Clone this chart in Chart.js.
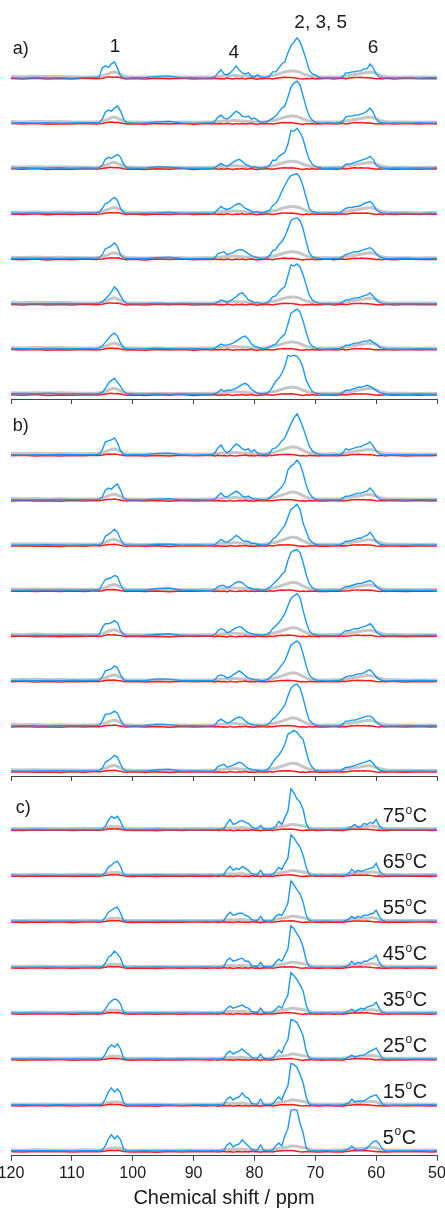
<!DOCTYPE html>
<html>
<head>
<meta charset="utf-8">
<script src="https://cdn.jsdelivr.net/npm/chart.js@4.4.1/dist/chart.umd.min.js"></script>
<style>
html, body { margin: 0; padding: 0; background: #fff; }
#wrap { position: relative; width: 445px; height: 1208px; overflow: hidden; background: #fff; }
canvas { position: absolute; left: -20px; }
</style>
</head>
<body>
<div id="wrap">
  <canvas id="pa" width="485" height="404" style="top:0px;width:485px;height:404px"></canvas>
  <canvas id="pb" width="485" height="377" style="top:404px;width:485px;height:377px"></canvas>
  <canvas id="pc" width="485" height="429" style="top:781px;width:485px;height:429px"></canvas>
</div>
<script>
// chemical shift grid (ppm), finer where the peaks are
const ppm = [120,118,116,114,112,110,108,106, 105.5,105,104.5,104,103.5,103,102.5,102,101.5,101,100, 98,96,94,92,90,88,
  87,86.5,86,85.5,85,84.5,84,83.5,83,82.5,82,81.5,81,80.5,80,79.5,79,78.5,78,77.5,77,76.5,76,75.5,75,74.5,74,73.5,73,72.5,72,71.5,71,70.5,70,69.5,69,
  68,67, 66,65.5,65,64.5,64,63.5,63,62.5,62,61.5,61,60.5,60,59.5,59,58.5,58, 57,55,53,51,50]
const tickPpm = [120,110,100,90,80,70,60,50]
const peakNames = ['1', '4', '2, 3, 5', '6']
const panelNames = ['a)', 'b)', 'c)']
const temps = ['75', '65', '55', '45', '35', '25', '15', '5']

// panel a - blue traces, top to bottom
const a1 = [0.3,-0.2,0.4,0,0.2,-0.3,0.3,0.6, 1,10,12,10.5,14,16,10,2,0.3,-0.2,0.2, 0.2,1.5,2,0,0.3,-0.2, 0.2,1,5,8,4,3,5,8,12,8,5,4,5,2,1,3,1,0.5,0.5,2,6,6,10,14,16,25,32,36,40,36,28,18,8,4,3,1,0, 0,0.2, 0,1,5,5,6,6,7,7,9,9,14,10,4,1,0.3,0,0.2, 0,0.3,-0.2,0.2,0]
const a2 = [-0.2,0.3,0,0.4,-0.1,0.2,0.5,0.3, 0.5,4,11,13,12,15,17,12,4,0.5,0, -0.2,1.2,1.8,0.2,-0.3,0.1, 0.3,2,6,8,5,4,6,9,12,10,7,6,7,4,5,3,1,1,1.5,3,5,7,11,15,17,26,36,40,42,38,27,16,7,3,1,0.5,0, 0.2,0, 0.3,2,6,7,7,8,8,9,10,12,15,11,4,1,0.5,0,-0.2, 0.2,-0.1,0.3,0,0.2]
const a3 = [0.2,0.5,0.1,0.3,0.6,0.2,0.4,0.2, 0.5,3,9,11,10,12,14,11,4,0.5,0, 0.2,1.5,1,0.3,0,0.2, 0,0.5,3,5,3,2,4,6,8,9,7,4,3,1,1.5,0.5,0.3,0.5,1,3,8,8,12,14,16,24,38,37,40,36,29,18,9,4,2,1,0.3, 0,0.3, 0,1,4,4,5,6,7,8,9,10,12,9,3,1,0.5,0.2,0, 0.3,0.1,0.4,0.2,0.5]
const a4 = [0.3,0.2,0.5,0.3,0.4,0.6,0.3,0.8, 1.5,5,10,11,14,16,13,5,1,0.2,0, 0.3,0.5,1.2,0,0.2,0.3, 0,1,4,7,5,4,5,7,9,10,8,5,4,2,1,2,0.5,1,2,3,8,10,15,22,28,34,38,39,40,36,27,16,5,2,1,0.5,0, 0.2,0.5, 0.5,3,5,6,6,7,7,8,10,11,12,9,4,1.5,0.5,0.2,0, 0.3,0,-0.2,0.3,0]
const a5 = [0.3,0.5,0.6,0.4,0.3,0.5,0.4,0.7, 1,4,10,11,13,16,12,4,0.8,0.2,0.3, 0.2,1,1.5,0.2,0,0.3, 0.2,1,5,6,7,4,5,6,8,9,9,7,5,3,2,1,0.5,0.3,1,3,8,9,14,17,22,30,38,40,41,38,30,17,6,2,1,0.5,0.2, 0,0.3, 0.5,2,4,5,6,7,7,8,9,10,11,9,5,2,1,0.3,0, 0.2,0.4,0,0.3,0.2]
const a6 = [0.2,0,0.3,0.1,0.4,0.2,0.3,0.5, 0.8,2,5,8,12,17,14,8,3,0.5,0, 0.3,0.6,0.2,0.5,0.1,0.3, 0.2,0.5,2,4,3,2,3,5,7,10,11,8,4,3,1,1.5,0.5,0.3,1,3,7,8,12,15,17,28,39,38,40,37,29,19,9,4,2,1,0.3, 0.2,0, 0.5,2,4,4,5,6,6,7,8,9,11,8,4,1.5,0.5,0.2,0, 0.3,0.1,0.2,0,0.2]
const a7 = [0.3,0.4,0.2,0.6,0.3,0.5,0.4,0.7, 1,3,7,10,14,16,13,6,1.5,0.3,0.2, 0.2,0.8,0.4,0.2,0.5,0.2, 0.3,1,3,5,4,4,5,6,8,10,12,13,10,5,3,2,1,0.5,1,2,4,5,9,12,15,25,36,38,40,37,28,17,7,3,1,0.5,0.2, 0,0.3, 0.5,2,4,4,5,6,6,7,8,8,9,7,5,2,1,0.3,0, 0.2,0,0.3,0.1,0]
const a8 = [0.5,0.8,0.6,1,0.7,0.5,0.4,0.6, 0.8,2,6,11,14,16,12,8,3,0.8,0.3, 0.2,0.4,0.2,0.3,0,0.2, 0.2,0.5,2,5,3,4,4,5,6,8,10,11,9,5,3,1,0.5,0.5,1,3,8,13,16,21,28,39,38,39,38,34,26,14,8,3,1,0.5,0.2, 0,0.2, 0.3,2,4,4,5,6,7,7,8,9,8,6,4,2,1,0.3,0, 0.2,0,0.3,0,0.2]
const greyA = [1.5,1.2,1.6,1.3,1.5,1.2,1,1.2, 1.5,2,3,4,5.5,6,5,3.5,2,1.2,1, 0.8,1,0.7,1,0.8,1, 1,1.2,1.5,1.8,2,2,2.2,2.5,2.5,2.2,2,1.8,1.5,1.4,1.2,1,1,1.2,1.5,2,2.5,3,4,5,6,6.5,7,7,6.5,5.5,4,3,2,1.5,1.2,1,1, 1,1, 1.2,1.5,2,2.5,3,3.5,4,4.5,5,5.5,6,5.5,4.5,3,2,1.5,1.2, 1,1,0.8,1,0.8]
const redA = [-0.5,-1,-0.3,-1.2,-0.6,-1,-0.4,-0.8, -0.6,-0.3,0.3,0.8,1,0.6,0.9,0.2,-0.5,-1,-0.6, -1.2,-0.4,-0.9,-0.3,-1.1,-0.5, -0.8,-0.3,-0.9,-0.5,-1,-0.2,-0.7,-1.1,-0.4,-0.8,-0.3,-1,-0.6,-0.2,-0.9,-1.3,-0.5,-0.8,-0.3,-0.6,-1,-0.4,0,0.4,0.6,0.3,0.5,0.2,-0.3,-0.8,-1.2,-0.5,-0.9,-0.3,-1,-0.6,-0.8, -0.4,-1, -0.6,-0.2,-0.8,-0.3,0.2,0.5,0.3,0.6,0.2,0.4,0,-0.4,-0.9,-0.5,-1,-0.3,-0.7, -1,-0.4,-0.9,-0.5,-0.8]

// panel b
const b1 = [0.2,-0.2,0.3,0,0.4,0.1,0.3,0.4, 0.8,5,13,14,15,17,12,4,0.5,0,0.2, 0.3,1.5,1.8,0.2,-0.2,0.3, 0.2,2,7,10,5,2,4,8,11,9,6,5,6,3,5,2,1,0.5,0.5,2,6,7,10,14,17,24,31,37,41,35,27,18,9,4,2,1,0.2, 0,0.3, 0.2,2,6,5,6,7,8,8,10,11,13,9,4,1,0.3,0,0.2, 0,0.3,-0.1,0.2,0]
const b2 = [0.4,0.2,0.5,0.3,0.6,0.4,0.3,0.5, 0.8,3,10,12,11,14,16,10,2,0.3,0.2, 0.3,1,1.3,0.2,0.4,0.2, 0.3,1,4,7,4,3,5,7,9,7,4,3,4,2,1,1,0.5,0.3,0.5,2,5,7,10,13,18,30,34,36,40,36,27,15,7,3,1,0.5,0.2, 0.3,0.2, 0.3,2,4,4,5,6,7,7,8,9,12,9,4,1,0.5,0.3,0.2, 0.4,0.2,0.5,0.3,0.4]
const b3 = [0.2,0.4,0.3,0.6,0.3,0.2,0.4,0.3, 0.5,2,9,11,13,16,13,6,1,0.3,0, 0.2,1,1.2,0.1,0.3,0.2, 0.2,0.5,3,6,4,3,5,7,10,8,5,4,4,2,2,1,0.5,0.3,0.5,2,6,8,12,16,20,28,36,38,41,36,22,14,6,3,1,0.5,0.2, 0.2,0, 0.3,2,4,4,5,6,7,7,9,10,13,9,4,1.5,0.5,0.2,0, 0.2,0,0.3,0.1,0.3]
const b4 = [0.4,0.3,0.6,0.4,0.5,0.3,0.6,0.5, 1,6,11,12,13,15,14,6,1,0.3,0.2, 0.3,2,2.5,0.2,0.4,0.1, 0.2,1,4,5,5,3,4,6,8,9,8,5,3,2,1,1,0.5,0.3,1,3,6,9,12,16,19,30,38,40,41,38,28,16,7,3,1,0.5,0.2, 0,0.3, 0.3,2,4,4,5,6,7,7,8,9,10,8,4,1.5,0.5,0.2,0, 0.2,0.4,0.1,0.3,0.2]
const b5 = [0.3,0.1,0.4,0.2,0.3,0.5,0.2,0.4, 1,8,12,12,13,15,13,5,1,0.2,0.1, 0.2,1.5,2,0.2,0.3,0.1, 0.2,1,5,7,6,3,4,6,8,9,8,5,3,2,1,1,0.5,0.5,1,3,7,10,13,17,22,30,37,40,42,38,25,14,5,2,1,0.3,0.2, 0.2,0, 0.5,3,5,5,6,7,7,8,9,10,12,9,4,1.5,0.5,0.2,0, 0.3,0.1,0.2,0.4,0.2]
const b6 = [0.3,0.5,0.2,0.4,0.3,0.6,0.4,0.5, 0.8,4,10,11,12,15,13,6,1,0.3,0.2, 0.2,2,1.8,0.3,0.2,0.3, 0.3,1,5,6,5,3,4,6,8,10,8,5,3,2,1,1,0.5,0.3,1,3,6,8,12,16,20,28,36,38,40,37,27,15,6,3,1,0.5,0.2, 0,0.2, 0.4,2,4,5,5,6,7,7,8,10,11,8,4,1.5,0.5,0.2,0, 0.3,0.1,0.4,0.2,0.3]
const b7 = [0.2,0.4,0.3,0.2,0.5,0.3,0.4,0.6, 1,5,12,12,13,15,13,6,1,0.3,0.1, 0.3,2,1.5,0.2,0.4,0.2, 0.2,1,5,7,5,3,4,6,8,9,8,5,3,2,1,1,0.5,0.3,1,3,7,9,13,17,21,30,38,41,42,38,28,16,6,3,1,0.5,0.2, 0.2,0, 0.3,2,5,5,6,6,7,8,9,10,10,8,4,1.5,0.5,0.2,0, 0.2,0.3,0.1,0.3,0.2]
const b8 = [0.3,0.2,0.4,0.3,0.5,0.4,0.3,0.5, 0.8,3,9,11,13,16,14,7,1.5,0.3,0.2, 0.2,1.5,2,0.2,0.3,0.2, 0.2,1,5,6,7,4,5,6,8,9,8,5,3,2,1,1,0.5,0.3,1,4,9,13,16,21,27,37,39,41,39,35,32,20,9,4,1,0.5,0.2, 0,0.3, 0.3,2,4,4,5,6,7,8,9,10,11,8,4,1.5,0.5,0.2,0, 0.2,0,0.3,0.1,0.2]
const greyB = [1.5,1.3,1.6,1.2,1.4,1.2,1.1,1.3, 1.4,2,3,4.5,5.5,6,5,3.5,2,1.2,1, 0.9,1,0.8,1,0.8,1, 1,1.2,1.5,1.8,2,2,2.2,2.5,2.5,2.2,2,1.8,1.5,1.4,1.2,1,1,1.2,1.5,2,2.5,3,4,5,6,7,8,8,7.5,6,4.5,3,2,1.5,1.2,1,1, 1,1.1, 1.2,1.5,2,2.5,3,3.5,4,4.5,5,5.5,5.5,5,4,3,2,1.5,1.2, 1.1,1,0.9,1,0.9]
const redB = [-0.8,-0.4,-1,-0.6,-1.1,-0.5,-0.9,-0.3, -0.7,-0.2,0.4,0.9,0.7,1,0.5,0.1,-0.6,-0.9,-0.5, -1,-0.5,-1.2,-0.4,-0.8,-0.6, -0.5,-1,-0.4,-0.9,-0.6,-1.2,-0.3,-0.8,-1,-0.5,-0.7,-0.2,-0.9,-0.6,-1.1,-0.4,-0.8,-0.5,-1,-0.3,-0.7,-0.2,0.2,0.5,0.3,0.6,0.4,0.1,-0.4,-0.9,-0.6,-1.1,-0.4,-0.8,-0.5,-1,-0.7, -0.9,-0.5, -0.8,-0.4,-0.6,-0.2,0.3,0.4,0.6,0.3,0.5,0.2,0.4,-0.1,-0.6,-0.9,-0.4,-1,-0.5, -0.7,-1,-0.5,-0.8,-0.6]

// panel c (75 down to 5 oC)
const c1 = [0.2,0,0.3,0.1,0.2,0,0.2,0.1, 0.2,0.5,3,9,13,11,13,8,1,0,0.2, 0.1,0.3,0,0.2,0.1,0, 0.2,0,0.3,0.2,1,6,10,5,6,8,9,7,6,3,1,1,4,1,0.5,0.3,1,3,8,5,12,18,40,36,30,27,20,6,0.5,0,0.2,0,0.2, 0,0.2, 0,0.2,0.5,1,3,5,2,3,6,5,7,6,10,4,1,0.2,0, 0.2,0,0.1,0.2,0]
const c2 = [0.2,0,0.3,0.1,0.2,0,0.3,0.2, 0.2,0.5,3,8,10,13,14,9,1,0,0.2, 0.2,0.5,0.3,0,0.2,0.1, 0.2,0,0.3,0.2,1,6,9,5,7,6,9,7,5,2,1,1,5,1,0.5,0.3,1,4,8,6,12,17,40,37,32,28,20,8,1,0,0.2,0,0.2, 0,0.2, 0,0.2,0.5,1.5,6,3,5,4,5,6,7,8,12,5,1,0.2,0, 0.2,0,0.1,0.2,0]
const c3 = [0.1,0.3,0,0.2,0.1,0.3,0,0.2, 0.3,0.5,4,9,11,13,14,8,1,0.2,0, 0,0.3,0.2,0.1,0,0.2, 0,0.2,0.3,0.1,1,6,9,6,7,8,8,6,5,2,1,1,5,1,0.5,0.3,1,5,7,6,11,18,40,36,31,27,19,6,1,0,0.2,0,0.2, 0.2,0, 0,0.3,1,2,5,3,5,4,6,6,7,8,11,5,1,0.2,0, 0,0.2,0,0.1,0.2]
const c4 = [0.2,0,0.2,0.3,0.1,0.2,0,0.3, 0.2,0.8,4,10,12,16,13,9,1,0.2,0, 0.2,0.3,0,0.2,0.1,0.3, 0.2,0,0.3,0.2,1,7,9,6,7,8,9,6,6,2,1,1,5,1,0.5,0.3,1,5,8,6,12,18,41,38,33,28,20,7,1,0,0.2,0,0.2, 0,0.2, 0,0.3,1,2,6,3,5,4,6,6,8,9,12,5,1,0.2,0, 0.2,0.1,0,0.2,0]
const c5 = [0.1,0.3,0.2,0,0.3,0.1,0.2,0.3, 0.2,0.6,4,9,12,14,13,9,1,0.2,0, 0.2,0.4,0.1,0.3,0,0.2, 0.2,0.1,0.3,0.2,1,5,7,5,6,7,8,6,5,2,1,1,5,1,0.5,0.3,1,4,7,5,12,18,40,37,33,28,22,8,1,0,0.2,0,0.2, 0.2,0, 0,0.3,0.8,2,4,2,3,5,4,6,7,8,11,5,1,0.2,0, 0,0.2,0.1,0.3,0.1]
const c6 = [0.2,0.1,0.3,0.2,0,0.2,0.3,0.1, 0.2,0.8,5,11,14,12,15,10,1,0.2,0, 0.3,0.2,0,0.2,0.3,0, 0.2,0,0.2,0.3,1,6,8,5,7,8,10,7,5,2,1,1,5,1,0.5,0.3,1,5,9,6,14,19,39,38,36,30,23,8,1,0,0.2,0,0.2, 0,0.2, 0,0.3,0.8,2,4,2,3,4,4,6,8,9,11,6,1,0.2,0, 0.2,0,0.2,0.1,0]
const c7 = [0.2,0.3,0.1,0.2,0.3,0.2,0.1,0.3, 0.3,1,6,13,17,13,16,12,2,0.2,0.1, 0.2,0.3,0.1,0,0.2,0.3, 0.2,0.1,0.3,0.2,1,6,8,5,7,8,12,8,7,2,1,1,6,1,0.5,0.3,1,5,8,5,13,19,41,40,37,30,22,8,1,0,0.2,0,0.2, 0.2,0, 0,0.3,1,2,6,3,4,4,4,6,8,9,10,6,1,0.2,0, 0,0.2,0.1,0.3,0.2]
const c8 = [0.3,0.2,0.4,0.2,0.3,0.1,0.3,0.2, 0.3,1,5,12,16,12,15,11,2,0.3,0.1, 0.3,0.1,0.2,0,0.3,0.1, 0.2,0,0.3,0.2,1,6,8,4,6,7,11,8,5,2,1,1,6,1,0.5,0.3,1,5,8,5,15,22,40,41,40,27,18,3,0.5,0,0.2,0,0.2, 0.2,0, 0,0.3,1,2,5,2,1,1,1.5,3,6,9,10,7,2,0.3,0, 0.2,0,0.3,0.1,0.2]
const greyC = [1,0.8,1.2,1,0.8,1,1.2,1, 1,1.2,1.5,2.5,3,3,3,2.5,1.5,1,0.8, 0.8,1,0.7,0.9,1,0.8, 1,0.8,1,1.2,1.5,1.5,1.8,1.5,1.5,1.8,2,1.5,1.2,1,0.8,0.8,1,0.8,1,1.2,1.5,2,2.5,3,3.5,4,5,5,4.5,4,3.5,3,2,1.2,1,0.8,1, 0.8,1, 1,1.2,1.5,2,2,2.2,2.5,2.5,3,3,3.5,3.5,3,2,1.5,1.2,1, 1,0.8,1,0.9,1]
const redC = [-0.6,-1,-0.5,-0.8,-0.4,-1,-0.7,-0.5, -0.8,-0.4,0,0.5,0.8,0.6,0.7,0.3,-0.4,-0.8,-1, -0.6,-1.1,-0.5,-0.9,-0.4,-0.8, -0.7,-0.4,-1,-0.6,-0.3,-0.9,-0.5,-1.1,-0.6,-0.4,-0.9,-0.5,-1,-0.3,-0.8,-0.6,-1.2,-0.4,-0.7,-0.5,-0.9,-0.3,0,0.3,0.5,0.4,0.6,0.3,-0.2,-0.7,-1,-0.5,-0.8,-0.4,-0.9,-0.6,-1, -0.5,-0.9, -0.6,-1,-0.4,-0.2,0.2,0.4,0.3,0.5,0.2,0.4,0.1,-0.3,-0.7,-0.4,-0.9,-0.6,-1, -0.5,-0.8,-0.4,-0.9,-0.6]

const FONT = '"Liberation Sans", Arial, sans-serif'
const BLUE = '#1a98f8'
const GREY = '#c6c6c6'
const RED = '#ff1a1a'
const INK = '#1a1a1a'

function text(ctx, str, x, y, size, align) {
    ctx.save()
    ctx.font = size + 'px ' + FONT
    ctx.fillStyle = INK
    ctx.textAlign = align || 'center'
    ctx.textBaseline = 'middle'
    ctx.fillText(str, x, y)
    ctx.restore()
}

// "75oC" with a raised small o
function tempText(ctx, t, x, y) {
    ctx.save()
    ctx.fillStyle = INK
    ctx.textAlign = 'left'
    ctx.textBaseline = 'alphabetic'
    ctx.font = '20px ' + FONT
    ctx.fillText(t, x, y + 7)
    const w = ctx.measureText(t).width
    ctx.font = '12px ' + FONT
    ctx.fillText('o', x + w + 0.5, y - 1.5)
    const w2 = ctx.measureText('o').width
    ctx.font = '20px ' + FONT
    ctx.fillText('C', x + w + w2 + 1, y + 7)
    ctx.restore()
}

function makePanel(id, blues, grey, red, padTop, last, draw) {
    const scales = {
        x: {
            type: 'linear', min: 50, max: 120, reverse: true,
            afterBuildTicks: s => { s.ticks = tickPpm.map(v => ({value: v})) },
            ticks: {display: last, padding: 3, color: INK, font: {family: FONT, size: 16}},
            grid: {drawOnChartArea: false, tickLength: 5, color: '#444'},
            border: {color: '#444', width: 1},
            title: {display: last, text: 'Chemical shift / ppm', color: INK,
                font: {family: FONT, size: 20}, padding: {top: 0, bottom: 0}}
        }
    }
    const datasets = []
    blues.forEach((b, i) => {
        const ax = 'y' + i
        scales[ax] = {type: 'linear', position: 'right', stack: 'traces', stackWeight: 1,
            min: -4.7, max: 40.5, display: false}
        datasets.push({data: b, yAxisID: ax, borderColor: BLUE, borderWidth: 1.4, order: 0})
        datasets.push({data: red, yAxisID: ax, borderColor: RED, borderWidth: 1.5, order: 1})
        datasets.push({data: grey, yAxisID: ax, borderColor: GREY, borderWidth: 3, order: 2})
    })
    datasets.forEach(d => { d.pointRadius = 0; d.tension = 0; d.clip = false; d.fill = false })
    return new Chart(document.getElementById(id), {
        type: 'line',
        data: {labels: ppm, datasets: datasets},
        options: {
            responsive: false, animation: false, events: [],
            layout: {padding: {left: 31, right: 28, top: padTop, bottom: 0}},
            plugins: {legend: {display: false}, tooltip: {enabled: false}},
            scales: scales
        },
        plugins: [{id: 'labels', afterDraw: draw}]
    })
}

makePanel('pa', [a1,a2,a3,a4,a5,a6,a7,a8], greyA, redA, 37.4, false, chart => {
    const x = chart.scales.x, y = chart.scales.y0, ctx = chart.ctx
    text(ctx, panelNames[0], x.getPixelForValue(119.7), y.getPixelForValue(28.7), 18, 'left')
    text(ctx, peakNames[0], x.getPixelForValue(102.9), y.getPixelForValue(30.7), 19)
    text(ctx, peakNames[1], x.getPixelForValue(83.4), y.getPixelForValue(24.7), 19)
    text(ctx, peakNames[2], x.getPixelForValue(69.1), y.getPixelForValue(54.7), 19)
    text(ctx, peakNames[3], x.getPixelForValue(60.5), y.getPixelForValue(29.7), 19)
})

makePanel('pb', [b1,b2,b3,b4,b5,b6,b7,b8], greyB, redB, 10.4, false, chart => {
    const x = chart.scales.x, y = chart.scales.y0
    text(chart.ctx, panelNames[1], x.getPixelForValue(119.7), y.getPixelForValue(29), 18, 'left')
})

makePanel('pc', [c1,c2,c3,c4,c5,c6,c7,c8], greyC, redC, 7.4, true, chart => {
    const x = chart.scales.x, ctx = chart.ctx
    text(ctx, panelNames[2], x.getPixelForValue(119.2), chart.scales.y0.getPixelForValue(20.7), 18, 'left')
    temps.forEach((t, i) => {
        tempText(ctx, t, x.getPixelForValue(58.9), chart.scales['y' + i].getPixelForValue(14))
    })
})
</script>
</body>
</html>
